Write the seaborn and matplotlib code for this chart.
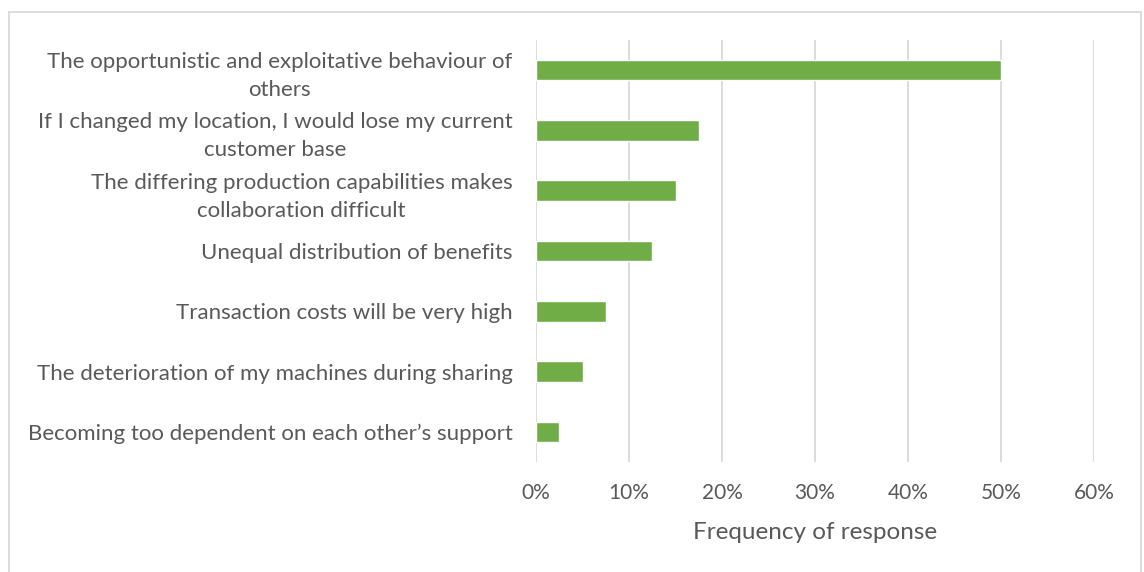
import pandas as pd
import matplotlib.pyplot as plt
import matplotlib.patches as mpatches
import matplotlib.ticker as mtick
import seaborn as sns

sns.set_theme(style='white')
plt.rcParams['font.family'] = ['Lato', 'DejaVu Sans']

# data
labels = [
    'The opportunistic and exploitative behaviour of\nothers',
    'If I changed my location, I would lose my current\ncustomer base',
    'The differing production capabilities makes\ncollaboration difficult',
    'Unequal distribution of benefits',
    'Transaction costs will be very high',
    'The deterioration of my machines during sharing',
    'Becoming too dependent on each other\u2019s support',
]
freq = [0.50, 0.175, 0.15, 0.125, 0.075, 0.05, 0.025]
ticks = [0, 0.1, 0.2, 0.3, 0.4, 0.5, 0.6]

df = pd.DataFrame({'reason': labels, 'freq': freq})

text_col = '#595959'
grid_col = '#d9d9d9'

fig = plt.figure(figsize=(11.44, 5.72), dpi=100)
ax = fig.add_axes([536 / 1144, 1 - 462 / 572, (1094 - 536) / 1144, (462 - 40) / 572])

sns.barplot(data=df, x='freq', y='reason', color='#70AD47', width=0.34,
            saturation=1, ax=ax, zorder=3)

ax.set_xlim(0, 0.6)
ax.set_xticks(ticks)
ax.xaxis.set_major_formatter(mtick.PercentFormatter(1.0, decimals=0))
ax.grid(axis='x', color=grid_col, linewidth=1.3, zorder=0)
ax.grid(axis='y', visible=False)
for s in ax.spines.values():
    s.set_visible(False)

ax.tick_params(axis='x', length=0, pad=15, labelsize=15, labelcolor=text_col)
ax.tick_params(axis='y', length=0, pad=17, labelsize=16, labelcolor=text_col)
for t in ax.get_yticklabels():
    t.set_multialignment('center')
    t.set_linespacing(1.5)

ax.set_ylabel('')
ax.set_xlabel('Frequency of response', fontsize=17.5, color=text_col, labelpad=14)

# outer chart border
fig.patches.append(mpatches.Rectangle((9 / 1144, -0.01), (1141 - 9) / 1144, 1 - 12 / 572 + 0.01,
                                      transform=fig.transFigure, fill=False,
                                      edgecolor='#d9d9d9', linewidth=1.3))

fig.savefig('out.png', dpi=100)
